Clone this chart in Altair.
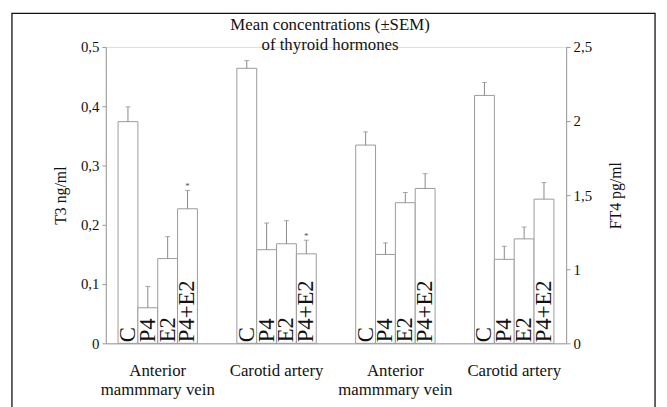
import altair as alt
import pandas as pd

# ---- data ----
groups = ["AMV_T3", "CA_T3", "AMV_FT4", "CA_FT4"]
treatments = ["C", "P4", "E2", "P4+E2"]

t3_amv = [0.374, 0.060, 0.143, 0.227]
t3_amv_sem = [0.025, 0.036, 0.037, 0.031]
t3_ca = [0.464, 0.158, 0.168, 0.151]
t3_ca_sem = [0.013, 0.045, 0.039, 0.023]
t3_marks_amv = ["", "", "", "*"]
t3_marks_ca = ["", "", "", "*"]

ft4_amv = [1.838, 1.100, 1.449, 1.545]
ft4_amv_sem = [0.089, 0.078, 0.069, 0.100]
ft4_ca = [2.173, 1.067, 1.205, 1.473]
ft4_ca_sem = [0.087, 0.088, 0.080, 0.112]

t3_ticks = [0, 0.1, 0.2, 0.3, 0.4, 0.5]
ft4_ticks = [0.5, 1, 1.5, 2, 2.5]

title_lines = ["Mean concentrations (\u00b1SEM)", "of thyroid hormones"]


def make_df(group_a, group_b, vals_a, sem_a, vals_b, sem_b, base, marks_a=None, marks_b=None):
    rows = []
    for g, vals, sems, marks in [(group_a, vals_a, sem_a, marks_a), (group_b, vals_b, sem_b, marks_b)]:
        for i, t in enumerate(treatments):
            rows.append({
                "group": g, "treat": t, "value": vals[i],
                "hi": vals[i] + sems[i], "base": base,
                "mark": (marks[i] if marks else ""),
            })
    return pd.DataFrame(rows)


df_t3 = make_df("AMV_T3", "CA_T3", t3_amv, t3_amv_sem, t3_ca, t3_ca_sem, 0.0,
                t3_marks_amv, t3_marks_ca)
df_ft4 = make_df("AMV_FT4", "CA_FT4", ft4_amv, ft4_amv_sem, ft4_ca, ft4_ca_sem, 0.5)

SERIF = "Liberation Serif"
GRAY = "#9a9a9a"

x_enc = alt.X(
    "group:N",
    scale=alt.Scale(domain=groups, paddingInner=0.332, paddingOuter=0.103),
    axis=alt.Axis(
        title=None, ticks=False, labelAngle=0, labelFont=SERIF, labelFontSize=17,
        labelColor="#111", labelPadding=20, labelBaseline="top", labelLineHeight=19,
        domainColor=GRAY, domainWidth=1,
        labelExpr="indexof(datum.value, 'AMV') == 0 ? ['Anterior', 'mammmary vein'] : 'Carotid artery'",
    ),
)
xo_enc = alt.XOffset("treat:N", scale=alt.Scale(domain=treatments, paddingInner=0, paddingOuter=0))


def panel(df, domain, axis):
    y_scale = alt.Scale(domain=domain, zero=False, nice=False)
    base = alt.Chart(df)
    bars = base.mark_bar(fill="white", stroke=GRAY, strokeWidth=1).encode(
        x=x_enc, xOffset=xo_enc,
        y=alt.Y("value:Q", scale=y_scale, axis=axis),
        y2="base:Q",
    )
    err = base.mark_rule(color="#888", strokeWidth=1).encode(
        x=x_enc, xOffset=xo_enc, y=alt.Y("value:Q"), y2="hi:Q"
    )
    cap = base.mark_tick(color="#888", size=5, thickness=1, orient="horizontal").encode(
        x=x_enc, xOffset=xo_enc, y=alt.Y("hi:Q")
    )
    star = base.mark_text(font=SERIF, fontSize=9, baseline="bottom", dy=1, color="#555").encode(
        x=x_enc, xOffset=xo_enc, y=alt.Y("hi:Q"), text="mark:N"
    )
    labels = base.mark_text(font=SERIF, fontSize=23, angle=270, align="left",
                            baseline="middle", dx=1, color="#111").encode(
        x=x_enc, xOffset=xo_enc, y=alt.Y("base:Q"), text="treat:N"
    )
    return alt.layer(bars, err, cap, star, labels)


left_axis = alt.Axis(
    orient="left", values=t3_ticks, title="T3 ng/ml", titleFont=SERIF, titleFontSize=16,
    titleFontWeight="normal", titleColor="#111", titlePadding=12,
    labelFont=SERIF, labelFontSize=15, labelColor="#111", labelPadding=3,
    tickSize=4, tickColor=GRAY, domainColor=GRAY, grid=False,
    labelExpr="replace(format(datum.value, ''), '.', ',')",
)
right_axis = alt.Axis(
    orient="right", values=ft4_ticks, title="FT4 pg/ml", titleFont=SERIF, titleFontSize=16,
    titleFontWeight="normal", titleColor="#111", titlePadding=16, titleAngle=270,
    titleBaseline="top",
    labelFont=SERIF, labelFontSize=15, labelColor="#111", labelPadding=3,
    tickSize=4, tickColor=GRAY, domainColor=GRAY, grid=False,
    labelExpr="datum.value == 0.5 ? '0' : replace(format(datum.value, ''), '.', ',')",
)

left = panel(df_t3, [0, 0.5], left_axis)
right = panel(df_ft4, [0.5, 2.5], right_axis)

one = pd.DataFrame({"k": [0]})

frame = alt.Chart(one).mark_rect(
    fill=None, stroke="#111", strokeWidth=1.3
).encode(
    x=alt.value(-95), x2=alt.value(556), y=alt.value(-34), y2=alt.value(440)
)

title = alt.Chart(one).mark_text(
    text=title_lines, font=SERIF, fontSize=17, color="#111", lineHeight=20,
    align="center", baseline="middle",
).encode(x=alt.value(227), y=alt.value(-22))

chart = alt.layer(left, right, frame, title).resolve_scale(y="independent").properties(
    width=466,
    height=300,
    autosize=alt.AutoSizeParams(type="none"),
    padding={"left": 99, "top": 37, "right": 94, "bottom": 62},
).configure_view(stroke=None).configure(background="white")

chart.save("out.html", embed_options={"renderer": "svg", "actions": False})
